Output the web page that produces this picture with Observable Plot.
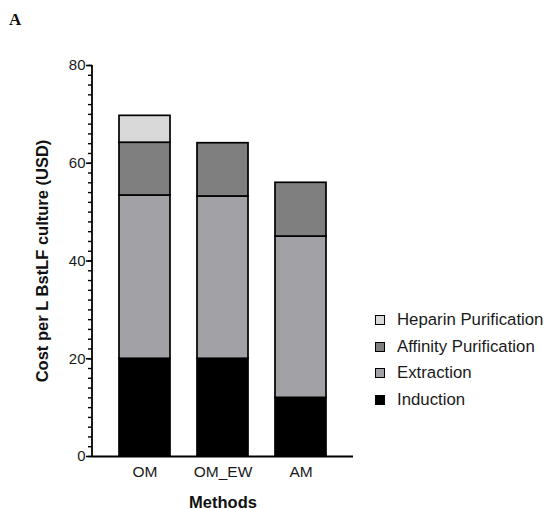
<!DOCTYPE html>
<html>
<head>
<meta charset="utf-8">
<script src="https://cdn.jsdelivr.net/npm/d3@7"></script>
<script src="https://cdn.jsdelivr.net/npm/@observablehq/plot@0.6"></script>
<style>
  body { margin: 0; background: #fff; }
  #wrap { position: relative; width: 545px; height: 509px; font-family: "Liberation Sans", Arial, sans-serif; overflow: hidden; }
  #panel { position: absolute; left: 9px; top: 10px; font-family: "Liberation Serif", serif; font-weight: bold; font-size: 17px; color: #111; }
  #legend { position: absolute; left: 375px; top: 307px; width: 175px; font-size: 16.8px; color: #1a1a1a; white-space: nowrap; }
  .row { display: flex; align-items: center; height: 26.5px; }
  .sw { box-sizing: border-box; flex: none; width: 10px; height: 10px; border: 1.5px solid #000; margin-right: 12px; }
</style>
</head>
<body>
<div id="wrap">
  <div id="panel">A</div>
  <div id="legend"></div>
</div>
<script>
const methods = ["OM", "OM_EW", "AM"];
const components = ["Induction", "Extraction", "Affinity Purification", "Heparin Purification"];
const induction = [20, 20, 12];
const extraction = [33.4, 33.2, 33];
const affinity = [10.8, 10.9, 11];
const heparin = [5.5, 0, 0];
const colors = ["#000000", "#a2a1a6", "#7f7f7f", "#d9d9d9"];
const yTicks = [0, 20, 40, 60, 80];
const yMinorTicks = d3.range(0, 81, 2);

const series = [induction, extraction, affinity, heparin];
const data = [];
methods.forEach((m, i) => {
  components.forEach((c, j) => {
    if (series[j][i] > 0) data.push({method: m, component: c, value: series[j][i]});
  });
});

function yAxisLine(...args) {
  const scales = args.find(a => a && typeof a.y === "function");
  const dims = args.find(a => a && a.marginLeft !== undefined);
  const line = document.createElementNS("http://www.w3.org/2000/svg", "line");
  line.setAttribute("x1", dims.marginLeft);
  line.setAttribute("x2", dims.marginLeft);
  line.setAttribute("y1", scales.y(0));
  line.setAttribute("y2", scales.y(80));
  line.setAttribute("stroke", "#000");
  line.setAttribute("stroke-width", 1.8);
  return line;
}

const chart = Plot.plot({
  width: 545,
  height: 509,
  marginLeft: 92,
  marginRight: 192,
  marginTop: 65,
  marginBottom: 53,
  style: {fontFamily: "Liberation Sans, Arial, sans-serif", fontSize: "15px", color: "#1a1a1a", background: "transparent"},
  x: {domain: methods, padding: 0.346, label: null},
  y: {domain: [0, 80], label: null},
  color: {domain: components, range: colors},
  marks: [
    Plot.barY(data, {x: "method", y: "value", fill: "component", order: components, stroke: "#000", strokeWidth: 1.7}),
    Plot.axisY({ticks: yMinorTicks, tickSize: 4, tickFormat: () => "", stroke: "#000", strokeWidth: 1.4}),
    Plot.axisY({ticks: yTicks, tickSize: 6, tickPadding: 1, stroke: "#000", strokeWidth: 1.6, fill: "#1a1a1a",
      label: "Cost per L BstLF culture (USD)", labelAnchor: "center", labelArrow: "none", labelOffset: 56}),
    Plot.axisX({tickSize: 0, tickPadding: 9, fill: "#1a1a1a", fontSize: 15.5,
      label: "Methods", labelAnchor: "center", labelArrow: "none", labelOffset: 51}),
    Plot.ruleY([0], {stroke: "#000", strokeWidth: 2.2}),
    yAxisLine
  ]
});
chart.querySelectorAll("g[aria-label='y-axis label'] text, g[aria-label='x-axis label'] text").forEach(t => {
  t.setAttribute("font-weight", "bold");
  t.setAttribute("font-size", "16.5");
  t.setAttribute("fill", "#111");
});
document.getElementById("wrap").prepend(chart);

const legend = document.getElementById("legend");
[...components].reverse().forEach((c) => {
  const row = document.createElement("div");
  row.className = "row";
  const sw = document.createElement("div");
  sw.className = "sw";
  sw.style.background = colors[components.indexOf(c)];
  const lab = document.createElement("span");
  lab.textContent = c;
  row.appendChild(sw);
  row.appendChild(lab);
  legend.appendChild(row);
});
</script>
</body>
</html>
